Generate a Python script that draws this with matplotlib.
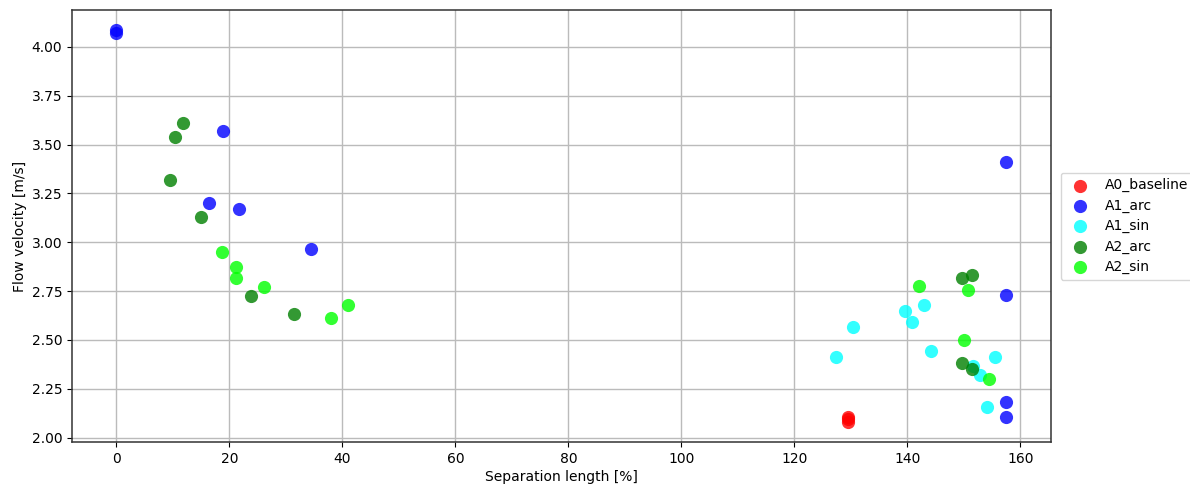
import matplotlib
matplotlib.use("Agg")
import matplotlib.pyplot as plt

# separation length [%] and flow velocity [m/s] per design variant
a0_baseline_x = [129.4, 129.4, 129.4]
a0_baseline_y = [2.108, 2.093, 2.078]

a1_arc_x = [0.0, 0.0, 18.8, 16.3, 21.6, 34.4, 157.4, 157.5, 157.5, 157.5]
a1_arc_y = [4.087, 4.070, 3.569, 3.200, 3.168, 2.966, 3.409, 2.732, 2.181, 2.104]

a1_sin_x = [143.0, 139.6, 140.8, 130.3, 144.2, 127.4, 155.5, 151.6, 152.8, 154.1]
a1_sin_y = [2.677, 2.648, 2.591, 2.566, 2.445, 2.412, 2.414, 2.364, 2.323, 2.155]

a2_arc_x = [11.7, 10.3, 9.4, 15.0, 23.8, 31.5, 149.6, 151.4, 149.6, 151.4]
a2_arc_y = [3.609, 3.540, 3.320, 3.127, 2.723, 2.634, 2.819, 2.834, 2.383, 2.349]

a2_sin_x = [18.6, 21.1, 21.1, 26.1, 37.9, 40.9, 142.0, 150.8, 150.1, 154.4]
a2_sin_y = [2.950, 2.872, 2.817, 2.773, 2.614, 2.677, 2.774, 2.755, 2.501, 2.301]

series = [
    ("A0_baseline", a0_baseline_x, a0_baseline_y, "red"),
    ("A1_arc", a1_arc_x, a1_arc_y, "blue"),
    ("A1_sin", a1_sin_x, a1_sin_y, "cyan"),
    ("A2_arc", a2_arc_x, a2_arc_y, "green"),
    ("A2_sin", a2_sin_x, a2_sin_y, "lime"),
]

plt.rcParams["font.size"] = 10
fig = plt.figure(figsize=(11.9, 4.87), dpi=100)
ax = fig.add_axes([0.0605, 0.0924, 0.8225, 0.8866])

for name, xs, ys, color in series:
    ax.scatter(xs, ys, s=90, c=color, alpha=0.8, linewidths=0, label=name, zorder=3)

ax.grid(True, color="#bbbbbb", linewidth=1.0)
ax.set_axisbelow(True)
for sp in ax.spines.values():
    sp.set_color("#333333")
    sp.set_linewidth(1.1)

ax.set_xlabel("Separation length [%]", labelpad=3)
ax.set_ylabel("Flow velocity [m/s]", labelpad=3)
ax.legend(loc="center left", bbox_to_anchor=(1.003, 0.5), fontsize=10,
          handletextpad=0.8, labelspacing=0.45)

fig.savefig("out.png", dpi=100)
